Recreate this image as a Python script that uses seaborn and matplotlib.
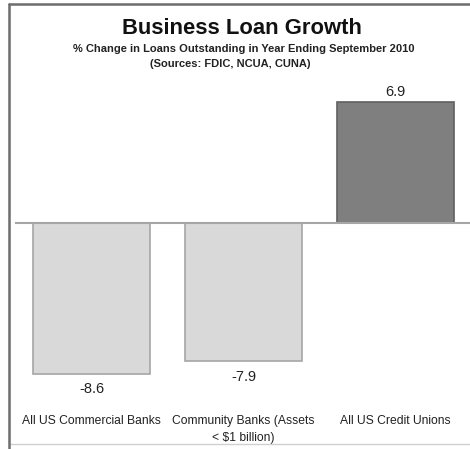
import matplotlib
matplotlib.use("Agg")
import matplotlib.pyplot as plt
from matplotlib.patches import Rectangle
import matplotlib.transforms as mtransforms
import seaborn as sns
import pandas as pd

categories = ["All US Commercial Banks", "Community Banks (Assets\n< $1 billion)", "All US Credit Unions"]
values = [-8.6, -7.9, 6.9]
value_labels = ["-8.6", "-7.9", "6.9"]
bar_colors = ["#d9d9d9", "#d9d9d9", "#7f7f7f"]
edge_colors = ["#a6a6a6", "#a6a6a6", "#606060"]

title = "Business Loan Growth"
subtitle = "% Change in Loans Outstanding in Year Ending September 2010"
sources = "(Sources: FDIC, NCUA, CUNA)"

sns.set_style("white")
plt.rcParams["font.family"] = ["Liberation Sans", "DejaVu Sans"]

df = pd.DataFrame({"group": categories, "change": values})

W, H = 470, 449
fig = plt.figure(figsize=(W / 100, H / 100), dpi=100)
ax = fig.add_axes([15.5 / W, 1 - 380 / H, 456 / W, 290 / H])

sns.barplot(data=df, x="group", y="change", hue="group", palette=bar_colors,
            width=0.77, legend=False, ax=ax, saturation=1)
for patch, ec in zip(ax.patches, edge_colors):
    patch.set_edgecolor(ec)
    patch.set_linewidth(1.2)

ax.set_xlim(-0.5, 2.5)
ax.set_ylim(-8.97, 7.6)
ax.set_xlabel("")
ax.set_ylabel("")
ax.set_yticks([])
for s in ["top", "right", "left"]:
    ax.spines[s].set_visible(False)
ax.spines["bottom"].set_position(("data", 0))
ax.spines["bottom"].set_color("#a6a6a6")
ax.spines["bottom"].set_linewidth(1.5)
ax.set_xticks(range(len(categories)))
ax.set_xticklabels([])
ax.tick_params(axis="x", which="major", length=0)
ax.set_xticks([-0.5, 0.5, 1.5, 2.5], minor=True)
ax.tick_params(axis="x", which="minor", direction="out", length=5, width=1.2, color="#a6a6a6")

# value labels
for i, (v, lab) in enumerate(zip(values, value_labels)):
    off = 2 if v > 0 else -6
    ax.annotate(lab, (i, v), xytext=(0, off), textcoords="offset points",
                ha="center", va="bottom" if v > 0 else "top", fontsize=10.5, color="#222222")

# category labels below the plot
trans = mtransforms.blended_transform_factory(ax.transData, fig.transFigure)
for i, c in enumerate(categories):
    ax.text(i, 1 - 415 / H, c, transform=trans, ha="center", va="top",
            fontsize=8.7, color="#222222", linespacing=1.55)

fig.text(0.515, 1 - 29 / H, title, ha="center", va="center", fontsize=15.8,
         fontweight="bold", color="#111111")
fig.text(0.518, 1 - 49 / H, subtitle, ha="center", va="center", fontsize=8.0,
         fontweight="bold", color="#222222")
fig.text(0.490, 1 - 64 / H, sources, ha="center", va="center", fontsize=8.0,
         fontweight="bold", color="#222222")

# outer frame
fig.patches.append(Rectangle((8.5 / W, 1 - 444 / H), 470 / W, 440 / H, transform=fig.transFigure,
                             fill=False, edgecolor="#d0d0d0", linewidth=1))
fig.lines.append(plt.Line2D([8.5 / W, 8.5 / W], [1 - 449 / H, 1 - 4 / H], transform=fig.transFigure,
                            color="#6e6e6e", linewidth=1.8))
fig.lines.append(plt.Line2D([8.5 / W, 1], [1 - 4 / H, 1 - 4 / H], transform=fig.transFigure,
                            color="#6e6e6e", linewidth=1.8))

fig.savefig("out.png", dpi=100, facecolor="white")
